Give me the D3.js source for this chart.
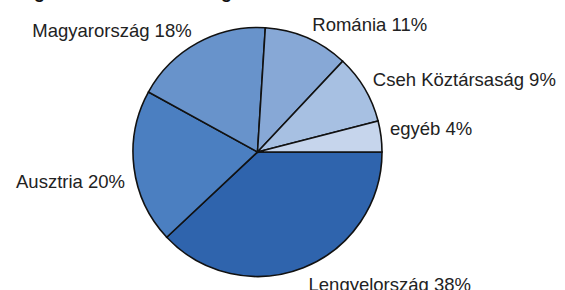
<!DOCTYPE html>
<html>
<head>
<meta charset="utf-8">
<script src="https://cdnjs.cloudflare.com/ajax/libs/d3/7.8.5/d3.min.js"></script>
<style>
    body { margin: 0; background: #fff; }
    .slice { stroke: #111; stroke-width: 1.6; }
    .label { font-family: "Liberation Sans", Arial, sans-serif; font-size: 18.5px; fill: #222; }
    .title { font-family: "Liberation Sans", Arial, sans-serif; font-size: 18.5px; font-weight: bold; fill: #111; }
</style>
</head>
<body>
<div id="chart"></div>
<script>
// Share by country
var countries = ["Lengyelország", "Ausztria", "Magyarország", "Románia", "Cseh Köztársaság", "egyéb"];
var shares = [38, 20, 18, 11, 9, 4];
var titleText = "Régiós befektetések megoszlása";

var pt = pt || {};
pt.pie = {};

pt.pie.width = 565;
pt.pie.height = 290;
pt.pie.cx = 257.5;
pt.pie.cy = 152;
pt.pie.r = 124.5;
// fill per slice, same order as countries
pt.pie.colors = ["#2f64ad", "#4b7fc1", "#6893cb", "#87a8d6", "#a7c0e2", "#c6d5ec"];
// small vertical tweaks for the labels (px), same order as countries
pt.pie.labelNudge = [1.5, 11.5, 1.5, 1.5, -1, -6];

pt.pie.svg = d3.select("#chart")
    .append("svg")
    .attr("width", pt.pie.width)
    .attr("height", pt.pie.height);

// Title, mostly cut off by the top edge
pt.pie.svg.append("text")
    .attr("class", "title")
    .attr("x", 10)
    .attr("y", -2)
    .text(titleText);

var data = countries.map(function (c, i) { return { name: c, value: shares[i] }; });

// Start at 3 o'clock and go clockwise
pt.pie.layout = d3.pie()
    .sort(null)
    .value(function (d) { return d.value; })
    .startAngle(Math.PI / 2)
    .endAngle(Math.PI / 2 + 2 * Math.PI);

pt.pie.arc = d3.arc().innerRadius(0).outerRadius(pt.pie.r);

var arcs = pt.pie.layout(data);

pt.pie.g = pt.pie.svg.append("g")
    .attr("transform", "translate(" + pt.pie.cx + "," + pt.pie.cy + ")");

pt.pie.g.selectAll(".slice")
    .data(arcs)
    .enter()
    .append("path")
    .attr("class", "slice")
    .attr("fill", function (d, i) { return pt.pie.colors[i]; })
    .attr("d", pt.pie.arc);

// Labels outside, on the ray through the middle of each slice
var gap = 6, pad = 3, boxH = 20;
pt.pie.g.selectAll(".label")
    .data(arcs)
    .enter()
    .append("text")
    .attr("class", "label")
    .each(function (d, i) {
        var a = (d.startAngle + d.endAngle) / 2 - Math.PI / 2;
        var px = (pt.pie.r + gap) * Math.cos(a);
        var py = (pt.pie.r + gap) * Math.sin(a);
        var right = Math.cos(a) >= 0;
        d3.select(this)
            .attr("x", right ? px + pad : px - pad)
            .attr("y", py + Math.sin(a) * boxH / 2 + 6.5 + pt.pie.labelNudge[i])
            .attr("text-anchor", right ? "start" : "end")
            .text(d.data.name + " " + d.data.value + "%");
    });
</script>
</body>
</html>
